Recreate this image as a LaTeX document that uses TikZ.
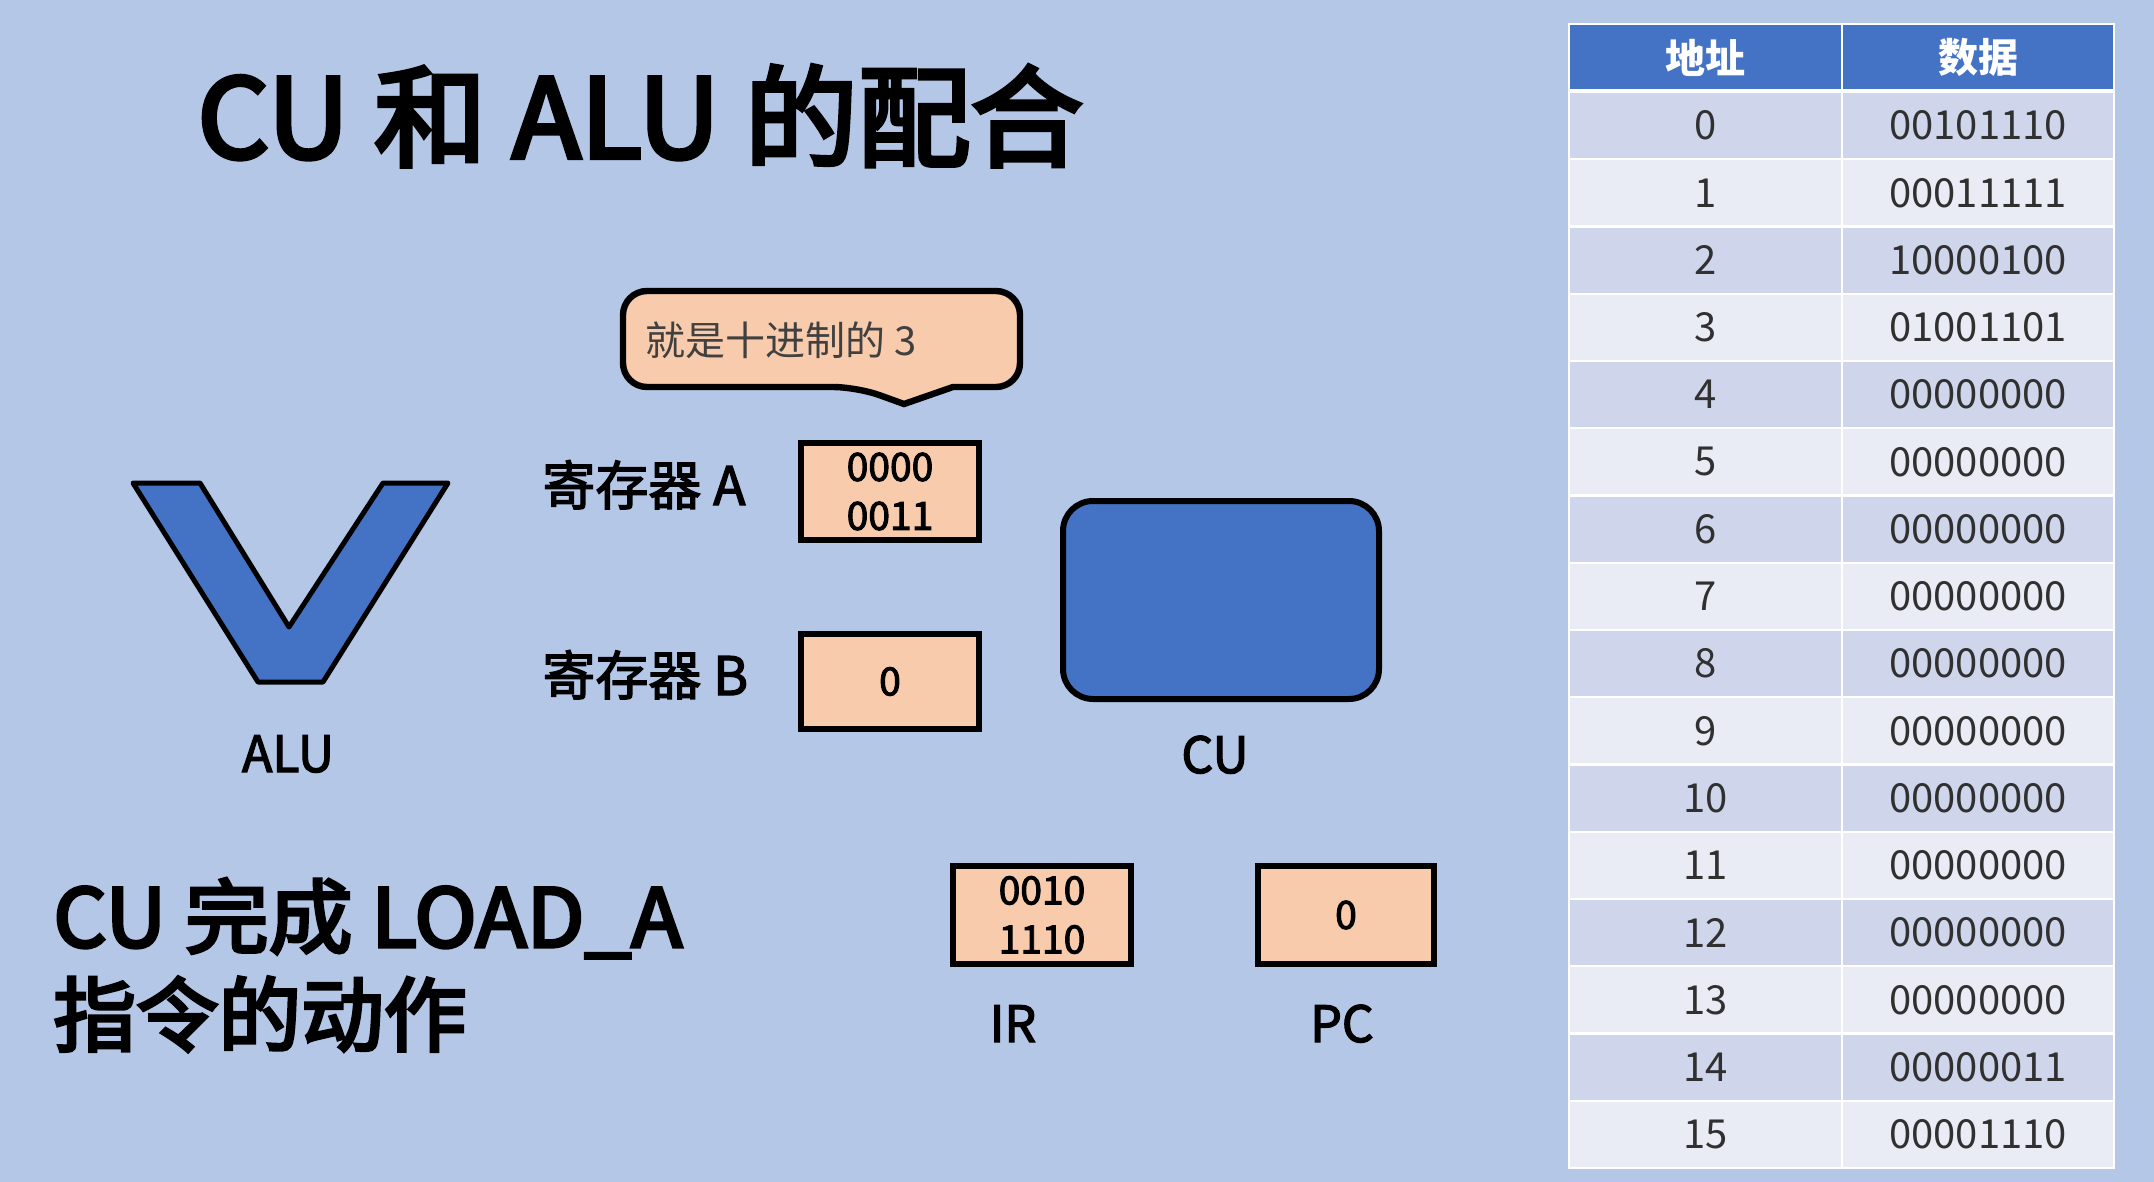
\documentclass[tikz,border=0pt]{standalone}
\usepackage{fontspec}
\usepackage{graphicx}
\setmainfont{Noto Sans CJK SC}
\newfontfamily\cjk{Noto Sans CJK SC}
\newfontfamily\cjkmed{Noto Sans CJK SC}[FakeBold=2.5]
\newfontfamily\cjkhvy{Noto Sans CJK SC}[FakeBold=4]
\definecolor{bg}{HTML}{B4C7E7}
\definecolor{boxfill}{HTML}{F8CBAD}
\definecolor{blueA}{HTML}{4472C4}
\definecolor{rowdark}{HTML}{CFD5EA}
\definecolor{rowlight}{HTML}{E9EBF5}
\definecolor{txtgray}{HTML}{404040}
\definecolor{celltxt}{HTML}{303030}
\begin{document}
\begin{tikzpicture}[x=0.5pt,y=-0.5pt,
  regbox/.style={draw=black, line width=3pt, fill=boxfill, inner sep=0pt, outer sep=0pt,
    align=center, font=\cjkmed\fontsize{19.5}{24.5}\selectfont},
  lbl/.style={anchor=base, inner sep=0pt, font=\cjkmed\fontsize{25}{30}\selectfont},
  reglbl/.style={anchor=base west, inner sep=0pt, font=\cjkmed\fontsize{26.5}{30}\selectfont},
  cell/.style={draw=white, line width=1.2pt, inner sep=0pt, outer sep=0pt,
    minimum height=33.625pt, text=celltxt, font=\cjk\fontsize{20}{24}\selectfont},
  colA/.style={minimum width=136.5pt},
  colD/.style={minimum width=136pt},
  hdr/.style={cell, fill=blueA, text=white, minimum height=33.5pt, font=\cjk\bfseries\fontsize{20}{24}\selectfont}
]
% background / bounding box
\path[fill=bg] (0,0) rectangle (2154,1182);
\useasboundingbox (0,0) rectangle (2154,1182);

% title
\node[anchor=base west, inner sep=0pt, font=\cjkhvy\fontsize{55}{60}\selectfont] (title) at (197,158) {\scalebox{1.025}[1]{CU 和 ALU 的配合}};

% ALU V shape
\draw[line width=2.5pt, line join=round, fill=blueA] (133,483) -- (200,483) -- (289,627) -- (383,483) -- (448,483) -- (323,682) -- (258,682) -- cycle;
\node[lbl] (alulbl) at (288,772) {ALU};

% bubble
\draw[line width=3.2pt, fill=boxfill, rounded corners=12pt] (623,340) -- (623,387) -- (857,387) [sharp corners] -- (904,404) -- (953,387) [rounded corners=12pt] -- (1020,387) -- (1020,291) -- (623,291) -- cycle;
\node[anchor=base west, inner sep=0pt, text=txtgray, font=\cjk\fontsize{20}{24}\selectfont] (bubtxt) at (645,356) {就是十进制的 3};

% registers
\node[reglbl] (lblA) at (542,505) {寄存器 A};
\node[reglbl] (lblB) at (542,695) {寄存器 B};
\node[regbox, minimum width=89pt, minimum height=48.5pt] (regA) at (890,491.5) {0000\\0011};
\node[regbox, minimum width=89pt, minimum height=47.5pt] (regB) at (890,681.5) {0};

% CU
\node[draw=black, line width=3pt, fill=blueA, rounded corners=15pt, minimum width=158pt, minimum height=99pt, inner sep=0pt] (cu) at (1221,600) {};
\node[lbl] (culbl) at (1215,773) {CU};

% IR and PC
\node[regbox, minimum width=89pt, minimum height=49pt] (ir) at (1042,915) {0010\\1110};
\node[regbox, minimum width=88pt, minimum height=49pt] (pc) at (1346,915) {0};
\node[lbl] (irlbl) at (1013,1042) {IR};
\node[lbl] (pclbl) at (1342,1042) {PC};

% bottom-left caption
\node[anchor=base west, inner sep=0pt, font=\cjkhvy\fontsize{40.5}{49}\selectfont] (cap1) at (53,947) {\scalebox{1.035}[1]{CU 完成 LOAD\_A}};
\node[anchor=base west, inner sep=0pt, font=\cjkhvy\fontsize{40.5}{49}\selectfont] (cap2) at (53,1045) {\scalebox{1.02}[1]{指令的动作}};

% table
\node[hdr, colA] (h1) at (1705.5,57.5) {地址};
\node[hdr, colD] (h2) at (1978,57.5) {数据};
\foreach \i/\d in {0/00101110,1/00011111,2/10000100,3/01001101,4/00000000,5/00000000,6/00000000,7/00000000,8/00000000,9/00000000,10/00000000,11/00000000,12/00000000,13/00000000,14/00000011,15/00001110}{
  \pgfmathsetmacro\yc{92+67.25*\i+33.625}
  \pgfmathtruncatemacro\odd{mod(\i,2)}
  \ifnum\odd=0 \def\rowfill{rowdark}\else\def\rowfill{rowlight}\fi
  \node[cell, colA, fill=\rowfill] (a\i) at (1705.5,\yc) {\i};
  \node[cell, colD, fill=\rowfill] (d\i) at (1978,\yc) {\d};
}
\draw[white, line width=2pt] (h1.south west) -- (h2.south east);
\end{tikzpicture}
\end{document}
